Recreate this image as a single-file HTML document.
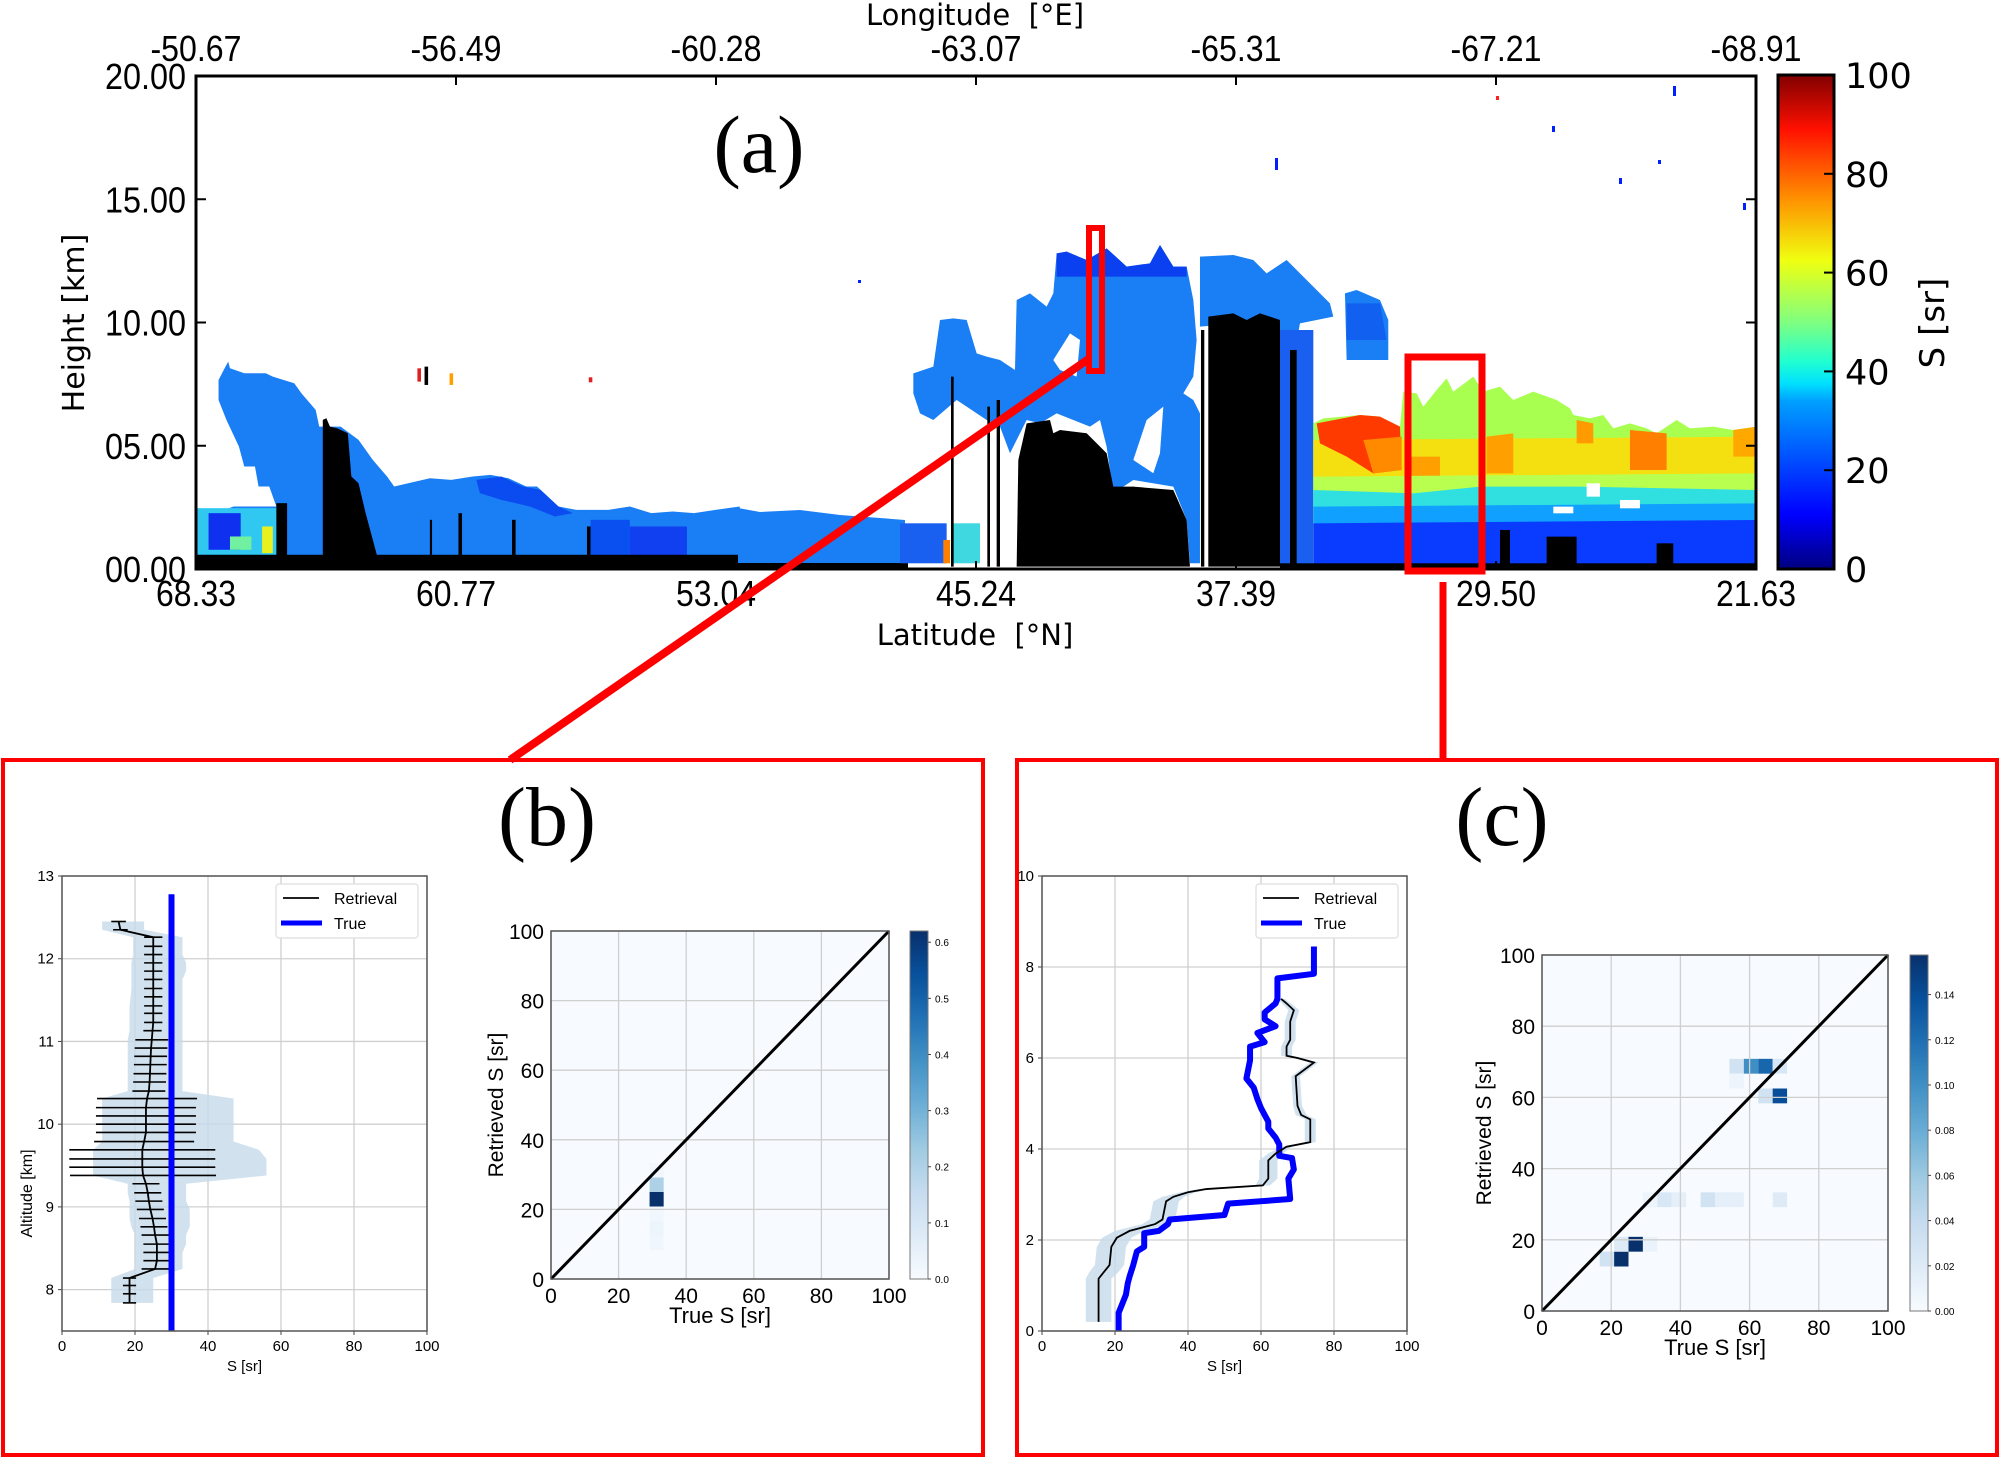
<!DOCTYPE html>
<html><head><meta charset="utf-8"><style>
html,body{margin:0;padding:0;background:#fff;}
svg{display:block;font-family:"Liberation Sans","DejaVu Sans",sans-serif;}
</style></head><body>
<svg id="fig" xmlns="http://www.w3.org/2000/svg" width="2001" height="1459" viewBox="0 0 2001 1459">
<defs>
<linearGradient id="jet" x1="0" y1="1" x2="0" y2="0">
<stop offset="0" stop-color="#00007f"/><stop offset="0.11" stop-color="#0000ff"/><stop offset="0.34" stop-color="#00a0ff"/><stop offset="0.375" stop-color="#00e0ff"/><stop offset="0.42" stop-color="#20ffd0"/><stop offset="0.5" stop-color="#80ff80"/><stop offset="0.625" stop-color="#f0ff10"/><stop offset="0.75" stop-color="#ff9000"/><stop offset="0.89" stop-color="#ff1000"/><stop offset="1" stop-color="#800000"/>
</linearGradient>
<linearGradient id="blues" x1="0" y1="1" x2="0" y2="0">
<stop offset="0" stop-color="#f7fbff"/><stop offset="0.125" stop-color="#deebf7"/><stop offset="0.25" stop-color="#c6dbef"/><stop offset="0.375" stop-color="#9ecae1"/><stop offset="0.5" stop-color="#6baed6"/><stop offset="0.625" stop-color="#4292c6"/><stop offset="0.75" stop-color="#2171b5"/><stop offset="0.875" stop-color="#08519c"/><stop offset="1" stop-color="#08306b"/>
</linearGradient>
<clipPath id="clipA"><rect x="196" y="76" width="1560" height="493"/></clipPath>
</defs>

<g clip-path="url(#clipA)">
 <g transform="translate(180,340) scale(0.357,0.333)">
  <polygon fill="#1a7ef5" points="108,120 125,85 135,65 140,85 180,100 240,100 260,110 320,130 340,160 380,210 390,260 450,260 500,300 540,360 580,410 600,440 700,415 760,420 820,410 870,405 920,415 970,440 1000,440 1030,470 1060,500 1110,510 1200,510 1260,500 1320,520 1380,515 1440,520 1500,510 1568,500 1568,680 45,680 45,510 100,520 150,500 200,500 270,500 250,440 220,440 210,380 180,380 165,320 130,240 108,180"/>
  <polygon fill="#0a4cf0" points="830,420 900,410 960,440 1010,450 1060,500 1100,520 1050,530 980,500 900,480 840,460"/>
  <rect x="45" y="505" width="225" height="140" fill="#30c8f0"/>
  <rect x="80" y="520" width="90" height="110" fill="#1030f0"/>
  <rect x="140" y="590" width="60" height="40" fill="#70f0a0"/>
  <rect x="230" y="560" width="30" height="80" fill="#e8f020"/>
  <rect x="1150" y="540" width="110" height="120" fill="#0a50f0"/>
  <rect x="1260" y="560" width="160" height="90" fill="#1040f0"/>
  <polygon fill="#000" points="400,680 400,240 410,235 420,260 440,265 470,280 480,410 500,430 520,520 540,600 560,680"/>
  <rect x="270" y="490" width="30" height="190" fill="#000"/>
  <rect x="0" y="645" width="1568" height="45" fill="#000"/>
  <rect x="700" y="540" width="6" height="120" fill="#000"/><rect x="780" y="520" width="10" height="140" fill="#000"/><rect x="930" y="540" width="10" height="120" fill="#000"/><rect x="1140" y="560" width="10" height="100" fill="#000"/>
  <rect x="665" y="85" width="10" height="40" fill="#e02020"/><rect x="755" y="100" width="10" height="35" fill="#ffa000"/><rect x="1145" y="112" width="10" height="15" fill="#e02020"/><rect x="685" y="80" width="10" height="55" fill="#000"/>
 </g>
 <polygon fill="#1a7ef5" points="738,508 760,512 800,510 840,515 880,518 905,520 905,566 738,566"/>
 <rect x="738" y="563" width="170" height="7" fill="#000"/>
 <g transform="translate(900,220) scale(0.3333)">
  <rect x="0" y="910" width="140" height="120" fill="#1a60f0"/>
  <rect x="130" y="960" width="20" height="70" fill="#ff8000"/>
  <rect x="160" y="910" width="80" height="120" fill="#40d8e0"/>
  <polygon fill="#1a7ef5" points="40,460 100,440 120,300 160,295 200,300 230,400 260,410 300,420 345,450 350,240 390,220 440,260 460,220 470,100 500,95 560,120 620,85 680,140 750,130 780,75 820,140 860,140 880,240 890,360 880,470 850,520 880,540 900,580 900,1030 870,1030 860,900 820,800 700,780 640,820 620,680 600,600 570,620 470,580 420,610 380,600 330,700 300,620 260,600 200,560 170,540 100,600 60,580 40,520"/>
  <polygon fill="#0a40f0" points="470,100 500,95 560,120 620,85 680,140 750,130 780,75 820,140 860,140 860,170 470,170"/>
  <polygon fill="#fff" points="700,720 740,600 790,560 780,700 760,760"/>
  <polygon fill="#fff" points="460,420 510,340 540,360 530,470 480,450"/>
  <polygon fill="#1a7ef5" points="900,110 1000,105 1060,120 1100,160 1160,120 1250,210 1290,250 1300,290 1200,310 1180,420 1200,600 1230,620 1230,1030 1150,1030 1140,300 900,320"/>
  <polygon fill="#1a7ef5" points="1335,220 1370,210 1440,240 1465,300 1465,420 1340,420"/>
  <polygon fill="#1260f0" points="1340,250 1440,250 1460,360 1340,360"/>
  <polygon fill="#000" points="350,1040 355,720 380,610 450,600 460,640 480,630 560,640 620,700 640,800 700,800 820,810 860,900 870,1040"/>
  <polygon fill="#000" points="925,1040 925,290 1000,280 1040,300 1080,280 1140,300 1150,1040"/>
  <rect x="153" y="470" width="8" height="570" fill="#000"/>
  <rect x="262" y="560" width="8" height="480" fill="#000"/>
  <rect x="290" y="540" width="10" height="500" fill="#000"/>
  <rect x="903" y="330" width="10" height="710" fill="#000"/>
 </g>
 <g transform="translate(1280,330) scale(0.3333)">
  <rect x="0" y="0" width="100" height="720" fill="#1a60f0"/>
  <rect x="30" y="60" width="20" height="660" fill="#000"/>
  <polygon fill="#a8ff50" points="100,280 130,265 240,255 300,260 360,290 370,185 410,190 430,230 470,180 500,145 520,185 580,140 610,185 660,170 700,210 760,185 830,210 870,235 880,255 930,265 970,255 1000,295 1050,280 1100,295 1130,310 1190,270 1230,295 1300,290 1360,300 1430,290 1430,720 100,720"/>
  <polygon fill="#f4e010" points="100,330 1430,320 1430,440 100,450"/>
  <polygon fill="#ff3a00" points="110,280 240,255 300,260 360,290 365,420 280,430 200,380 120,340"/>
  <polygon fill="#ff8a00" points="250,330 365,320 365,420 280,430"/>
  <polygon fill="#ffa000" points="380,380 480,380 480,450 380,450"/>
  <polygon fill="#ffa000" points="620,320 700,310 700,430 620,430"/>
  <polygon fill="#ff9a00" points="890,270 940,280 940,340 890,340"/>
  <polygon fill="#ff8000" points="1050,300 1160,310 1160,420 1050,420"/>
  <polygon fill="#ffa800" points="1360,300 1430,290 1430,380 1360,380"/>
  <polygon fill="#b8ff50" points="100,440 1430,430 1430,490 100,490"/>
  <polygon fill="#30e0e0" points="100,480 400,490 600,470 900,470 1430,480 1430,540 100,540"/>
  <polygon fill="#10a0ff" points="100,530 1430,520 1430,590 100,590"/>
  <polygon fill="#0a3cff" points="100,580 1430,570 1430,720 100,720"/>
  <rect x="800" y="620" width="90" height="100" fill="#000"/>
  <rect x="1130" y="640" width="50" height="80" fill="#000"/>
  <rect x="660" y="600" width="30" height="120" fill="#000"/>
  <rect x="0" y="700" width="1440" height="30" fill="#000"/>
  <rect x="820" y="530" width="60" height="20" fill="#fff"/><rect x="920" y="460" width="40" height="40" fill="#fff"/><rect x="1020" y="510" width="60" height="25" fill="#fff"/>
 </g>
 <rect x="1673" y="86" width="3" height="10" fill="#0020ff"/>
 <rect x="1496" y="96" width="3" height="4" fill="#ff2020"/>
 <rect x="1552" y="126" width="3" height="6" fill="#0020ff"/>
 <rect x="1275" y="158" width="3" height="12" fill="#0020ff"/>
 <rect x="1658" y="160" width="3" height="4" fill="#0020ff"/>
 <rect x="1619" y="178" width="3" height="6" fill="#0020ff"/>
 <rect x="1743" y="203" width="3" height="7" fill="#0020ff"/>
 <rect x="858" y="280" width="3" height="3" fill="#0020ff"/>
</g>

<rect x="196" y="76" width="1560" height="493" fill="none" stroke="#000" stroke-width="3"/>
<g id="axA"></g>
<text x="759" y="172" font-family="Liberation Serif,serif" font-size="82" text-anchor="middle">(a)</text>
<text x="975" y="645" font-family="DejaVu Sans,sans-serif" font-size="29" text-anchor="middle" xml:space="preserve">Latitude  [°N]</text>
<text x="975" y="25" font-family="DejaVu Sans,sans-serif" font-size="29" text-anchor="middle" xml:space="preserve">Longitude  [°E]</text>
<text transform="translate(84,323) rotate(-90)" font-family="DejaVu Sans,sans-serif" font-size="30" text-anchor="middle">Height [km]</text>
<rect x="1778" y="75" width="56" height="494" fill="url(#jet)" stroke="#000" stroke-width="3"/>
<g id="cbA"></g>
<text transform="translate(1944,323) rotate(-90)" font-family="DejaVu Sans,sans-serif" font-size="34" text-anchor="middle">S [sr]</text>

<rect x="1089" y="228" width="13" height="143" fill="none" stroke="#ff0000" stroke-width="6"/>
<rect x="1408" y="357" width="74" height="214" fill="none" stroke="#ff0000" stroke-width="7"/>
<line x1="1090" y1="358" x2="510" y2="760" stroke="#ff0000" stroke-width="8"/>
<line x1="1443" y1="582" x2="1443" y2="760" stroke="#ff0000" stroke-width="7"/>
<rect x="3" y="760" width="980" height="695" fill="none" stroke="#ff0000" stroke-width="4"/>
<rect x="1017" y="760" width="980" height="695" fill="none" stroke="#ff0000" stroke-width="4"/>
<text x="547" y="845" font-family="Liberation Serif,serif" font-size="84" text-anchor="middle">(b)</text>
<text x="1502" y="845" font-family="Liberation Serif,serif" font-size="84" text-anchor="middle">(c)</text>

<g id="pb"></g>
<g id="sb"></g>
<g id="pc"></g>
<g id="sc"></g>
</svg>
<script>
const latLabels = ["68.33","60.77","53.04","45.24","37.39","29.50","21.63"];
const lonLabels = ["-50.67","-56.49","-60.28","-63.07","-65.31","-67.21","-68.91"];
const heightTicks = [0,5,10,15,20];
const heightLabels = ["00.00","05.00","10.00","15.00","20.00"];
const cbTicks = [0,20,40,60,80,100];

const bAlt = [12.45,12.35,12.26,12.15,12.05,11.95,11.85,11.75,11.64,11.54,11.43,11.34,11.23,11.13,11.02,10.92,10.82,10.72,10.61,10.51,10.40,10.31,10.20,10.10,10.00,9.90,9.79,9.69,9.58,9.48,9.38,9.28,9.17,9.07,8.97,8.86,8.76,8.66,8.55,8.45,8.35,8.25,8.14,8.05,7.95,7.84];
const bRet = [15.5,16,25,25,25,25,25,25,25,25,25,25,25,24.8,24.6,24.4,24.3,24.2,24.1,24,23.8,23.3,23,23,23,23,22.5,22,22,22,22.2,23,23.5,23.8,24.2,24.8,25.2,25.5,26,26,26,25.5,18.5,18.5,18.5,18.5];
const bErr = [2,2,2.5,2.5,2.5,2.5,2.5,2.5,2.5,2.5,2.5,2.5,2.5,2.5,4.5,4.5,4.5,4.5,4.5,4.5,4.5,13.7,13.7,13.7,13.7,13.7,13.7,20,20,20,20,3.7,3.7,3.7,3.7,3.7,3.7,3.7,3.7,3.7,3.7,3.7,1.8,1.8,1.8,1.8];
const bLo = [11,11,19.5,19.5,19.5,19,19,19,19,18.8,18.5,18.5,18.5,18.5,18,18,18,18,18,18,18,11,11,11,11,11,11,8.5,8.5,8.5,8.5,18,18,18.5,18.5,18.5,19,20,20,20,20,20,13.5,13.5,13.5,13.5];
const bHi = [22.5,22.5,33,33,33,34,34,33,33,33,33,33,33,33,33,33,33,33,33,33,33,47,47,47,47,47,47,54,56,56,56,34,34,34,35,35,35,34,34,33,33,33,25,25,25,25];
const bTrueAlt = [7.5,12.78];
const bTrueS = [30,30];

const cAlt = [0.2,0.5,0.8,1.15,1.3,1.45,1.85,2.05,2.2,2.35,2.45,2.85,2.95,3.05,3.12,3.2,3.35,3.75,3.9,4.05,4.15,4.65,4.75,4.95,5.6,5.75,5.9,6.0,6.05,6.25,6.4,6.8,7.05,7.2,7.3];
const cRet = [15.5,15.5,15.5,15.5,17,18.5,19,20.5,24,31,33,34,36,40,45,60.5,62,62,64,67,73.5,73.5,71,70,69.5,72,74.5,70,67,67,68,68,69,67,65.5];
const cErr = [3.5,3.5,3.5,3.5,4,4,4,4,4,3.5,3.5,3.5,3,2,2,2,2.5,2.5,2,1.5,1.5,1.5,1.5,1.2,1.2,1.2,1.2,1.2,1.5,1.5,1.5,1.5,1.5,1.2,1];
const cTrueAlt = [0,0.4,0.6,0.8,1.05,1.2,1.45,1.75,1.85,2.15,2.2,2.35,2.45,2.55,2.8,2.9,3.35,3.55,3.8,3.85,4.1,4.25,4.45,4.6,4.9,5.1,5.35,5.55,5.75,5.95,6.25,6.35,6.55,6.7,6.85,7.0,7.2,7.3,7.75,7.85,8.45];
const cTrueS = [21,21,22,23,23.5,24,25,26,28,28,32,34.5,35,50,51,68,67.5,69,68.5,65,65,64,62,62,60,59,58,56,56.5,57,57,61,59,64,61,61,64,64.5,64.5,74.5,74.5];

const bCellX = [7,7,7,7,7,7];
const bCellY = [5,6,7,2,3,4];
const bCellV = [0.62,0.2,0.02,0.025,0.03,0.02];
const cCellX = [5,4,6,5,7,7,8,9,11,12,13,16,13,14,15,16,13,15,16];
const cCellY = [3,3,4,4,4,7,7,7,7,7,7,7,16,16,16,16,15,14,14];
const cCellV = [0.157,0.03,0.157,0.02,0.01,0.008,0.025,0.015,0.03,0.015,0.015,0.02,0.03,0.1,0.125,0.025,0.008,0.03,0.14];
const bCbTicks = [0,0.1,0.2,0.3,0.4,0.5,0.6];
const cCbTicks = [0,0.02,0.04,0.06,0.08,0.1,0.12,0.14];
const scatterTicks = [0,20,40,60,80,100];

const NS = "http://www.w3.org/2000/svg";
function mk(parent, tag, attrs, txt){
  const e = document.createElementNS(NS, tag);
  for (const k in attrs) e.setAttribute(k, attrs[k]);
  if (txt !== undefined) e.textContent = txt;
  parent.appendChild(e);
  return e;
}
const BL = [[247,251,255],[222,235,247],[198,219,239],[158,202,225],[107,174,214],[66,146,198],[33,113,181],[8,81,156],[8,48,107]];
function blues(t){
  t = Math.max(0, Math.min(1, t)) * 8;
  const i = Math.min(7, Math.floor(t)), f = t - i;
  const c = BL[i].map((v, k) => Math.round(v + (BL[i+1][k] - v) * f));
  return "rgb(" + c.join(",") + ")";
}

(function(){
  const g = document.getElementById("axA");
  const xA = i => 196 + i * 1560 / 6;
  const yA = h => 569 - h * 493 / 20;
  latLabels.forEach((l, i) => {
    const x = xA(i);
    const t = mk(g, "line", {x1:x, y1:569, x2:x, y2:561, stroke:"#000", "stroke-width":2});
    
    
    const tl = mk(g, "text", {x:x, y:606, "font-size":36, "text-anchor":"middle", textLength:80, lengthAdjust:"spacingAndGlyphs"}, l);
    
    
  });
  lonLabels.forEach((l, i) => {
    const x = xA(i);
    const t = mk(g, "line", {x1:x, y1:76, x2:x, y2:85, stroke:"#000", "stroke-width":2});
    
    
    const tl = mk(g, "text", {x:x, y:61, "font-size":36, "text-anchor":"middle", textLength:91, lengthAdjust:"spacingAndGlyphs"}, l);
    
    
  });
  heightTicks.forEach((h, i) => {
    const y = yA(h);
    const t = mk(g, "line", {x1:196, y1:y, x2:206, y2:y, stroke:"#000", "stroke-width":2});
    
    
    const t2 = mk(g, "line", {x1:1756, y1:y, x2:1746, y2:y, stroke:"#000", "stroke-width":2});
    
    
    const tl = mk(g, "text", {x:186, y:y + 13, "font-size":36, "text-anchor":"end", textLength:81, lengthAdjust:"spacingAndGlyphs"}, heightLabels[i]);
    
    
  });
  const c = document.getElementById("cbA");
  cbTicks.forEach(v => {
    const y = 569 - v * 494 / 100;
    const t = mk(c, "line", {x1:1834, y1:y, x2:1824, y2:y, stroke:"#000", "stroke-width":2});
    
    
    const tl = mk(c, "text", {x:1845, y:y + 13, "font-size":35, "font-family":"DejaVu Sans,sans-serif"}, String(v));
    
    
  });
})();

function profile(gid, x0, x1, yTop, yBot, aMin, aMax, yTicks, opts){
  const g = document.getElementById(gid);
  const xs = v => x0 + (x1 - x0) * v / 100;
  const ys = a => yBot - (yBot - yTop) * (a - aMin) / (aMax - aMin);
  [0,20,40,60,80,100].forEach(v => {
    const l = mk(g, "line", {x1:xs(v), y1:yTop, x2:xs(v), y2:yBot, stroke:"#d0d0d0", "stroke-width":1.3});
    
    
    const t = mk(g, "text", {x:xs(v), y:yBot + 20, "font-size":15, "text-anchor":"middle"}, String(v));
    
    
    const tk = mk(g, "line", {x1:xs(v), y1:yBot, x2:xs(v), y2:yBot + 4, stroke:"#444"});
    
    
  });
  yTicks.forEach(a => {
    const l = mk(g, "line", {x1:x0, y1:ys(a), x2:x1, y2:ys(a), stroke:"#d0d0d0", "stroke-width":1.3});
    
    
    const t = mk(g, "text", {x:x0 - 8, y:ys(a) + 5, "font-size":15, "text-anchor":"end"}, String(a));
    
    
    const tk = mk(g, "line", {x1:x0 - 4, y1:ys(a), x2:x0, y2:ys(a), stroke:"#444"});
    
    
  });
  const A = opts.alt, lo = opts.lo, hi = opts.hi;
  let pts = [];
  for (let i = 0; i < A.length; i++) pts.push(xs(hi[i]) + "," + ys(A[i]));
  for (let i = A.length - 1; i >= 0; i--) pts.push(xs(lo[i]) + "," + ys(A[i]));
  const sh = mk(g, "polygon", {points:pts.join(" "), fill:"#c5d9ea", opacity:0.8});
  
  
  if (opts.err) {
    for (let i = 0; i < A.length; i++) {
      const e = mk(g, "line", {x1:xs(opts.ret[i] - opts.err[i]), y1:ys(A[i]), x2:xs(opts.ret[i] + opts.err[i]), y2:ys(A[i]), stroke:"#000", "stroke-width":1.6});
      
      
    }
  }
  const tp = opts.tAlt.map((a, i) => xs(opts.tS[i]) + "," + ys(a)).join(" ");
  const tl = mk(g, "polyline", {points:tp, fill:"none", stroke:"#0000ff", "stroke-width":6, "stroke-linejoin":"round"});
  
  
  const rp = A.map((a, i) => xs(opts.ret[i]) + "," + ys(a)).join(" ");
  const rl = mk(g, "polyline", {points:rp, fill:"none", stroke:"#000", "stroke-width":1.8});
  
  
  const fr = mk(g, "rect", {x:x0, y:yTop, width:x1 - x0, height:yBot - yTop, fill:"none", stroke:"#555", "stroke-width":1.5});
  
  
  const xl = mk(g, "text", {x:(x0 + x1) / 2, y:yBot + 40, "font-size":15, "text-anchor":"middle"}, "S [sr]");
  
  
  if (opts.ylabel) {
    const yl = mk(g, "text", {transform:"translate(" + (x0 - 30) + "," + ((yTop + yBot) / 2 + 90) + ") rotate(-90)", "font-size":16, "text-anchor":"middle"}, "Altitude [km]");
    
    
  }
  const lx = opts.legX, ly = 884;
  const lg = mk(g, "rect", {x:lx, y:ly, width:142, height:54, rx:3, fill:"#fff", stroke:"#ddd", "stroke-width":1.2});
  
  
  const l1 = mk(g, "line", {x1:lx + 7, y1:ly + 14, x2:lx + 43, y2:ly + 14, stroke:"#000", "stroke-width":1.8});
  
  
  const t1 = mk(g, "text", {x:lx + 58, y:ly + 20, "font-size":16}, "Retrieval");
  
  
  const l2 = mk(g, "line", {x1:lx + 5, y1:ly + 39, x2:lx + 46, y2:ly + 39, stroke:"#0000ff", "stroke-width":5});
  
  
  const t2 = mk(g, "text", {x:lx + 58, y:ly + 45, "font-size":16}, "True");
  
  
}
profile("pb", 62, 427, 876, 1331, 7.5, 13, [8,9,10,11,12,13],
  {alt:bAlt, ret:bRet, err:bErr, lo:bLo, hi:bHi, tAlt:bTrueAlt, tS:bTrueS, legX:276, ylabel:true});
profile("pc", 1042, 1407, 876, 1331, 0, 10, [0,2,4,6,8,10],
  {alt:cAlt, ret:cRet, err:null, lo:cRet.map((v,i)=>v-cErr[i]), hi:cRet.map((v,i)=>v+cErr[i]), tAlt:cTrueAlt, tS:cTrueS, legX:1256, ylabel:false});

function scatter(gid, x0, x1, yTop, yBot, cx, cy, cv, vmax, cbX, cbTicks, dec, ylx, xly){
  const g = document.getElementById(gid);
  const xs = v => x0 + (x1 - x0) * v / 100;
  const ys = v => yBot - (yBot - yTop) * v / 100;
  const bg = mk(g, "rect", {x:x0, y:yTop, width:x1 - x0, height:yBot - yTop, fill:"#f7fbff"});
  
  
  const bw = 100 / 24;
  for (let i = 0; i < cx.length; i++) {
    const c = mk(g, "rect", {x:xs(cx[i] * bw), y:ys((cy[i] + 1) * bw), width:xs(bw) - x0, height:yBot - ys(bw), fill:blues(cv[i] / vmax)});
    
    
  }
  scatterTicks.forEach(v => {
    const gl = mk(g, "line", {x1:xs(v), y1:yTop, x2:xs(v), y2:yBot, stroke:"#cfcfcf", "stroke-width":1.3});
    
    
    const gl2 = mk(g, "line", {x1:x0, y1:ys(v), x2:x1, y2:ys(v), stroke:"#cfcfcf", "stroke-width":1.3});
    
    
    const tx = mk(g, "text", {x:xs(v), y:yBot + 24, "font-size":21, "text-anchor":"middle"}, String(v));
    
    
    const ty = mk(g, "text", {x:x0 - 7, y:ys(v) + 8, "font-size":21, "text-anchor":"end"}, String(v));
    
    
  });
  const d = mk(g, "line", {x1:xs(0), y1:ys(0), x2:xs(100), y2:ys(100), stroke:"#000", "stroke-width":3});
  
  
  const fr = mk(g, "rect", {x:x0, y:yTop, width:x1 - x0, height:yBot - yTop, fill:"none", stroke:"#555", "stroke-width":1.5});
  
  
  const xl = mk(g, "text", {x:(x0 + x1) / 2, y:xly, "font-size":22, "text-anchor":"middle"}, "True S [sr]");
  
  
  const yl = mk(g, "text", {transform:"translate(" + ylx + "," + ((yTop + yBot) / 2) + ") rotate(-90)", "font-size":21, "text-anchor":"middle"}, "Retrieved S [sr]");
  
  
  const cb = mk(g, "rect", {x:cbX, y:yTop, width:18, height:yBot - yTop, fill:"url(#blues)", stroke:"#777", "stroke-width":1});
  
  
  cbTicks.forEach(v => {
    const y = yBot - (yBot - yTop) * v / vmax;
    const t = mk(g, "line", {x1:cbX + 18, y1:y, x2:cbX + 21, y2:y, stroke:"#444"});
    
    
    const tl = mk(g, "text", {x:cbX + 25, y:y + 4, "font-size":10}, v.toFixed(dec));
    
    
  });
}
scatter("sb", 551, 889, 931, 1279, bCellX, bCellY, bCellV, 0.62, 910, bCbTicks, 1, 503, 1323);
scatter("sc", 1542, 1888, 955, 1311, cCellX, cCellY, cCellV, 0.1575, 1910, cCbTicks, 2, 1491, 1355);
</script>
</body></html>
